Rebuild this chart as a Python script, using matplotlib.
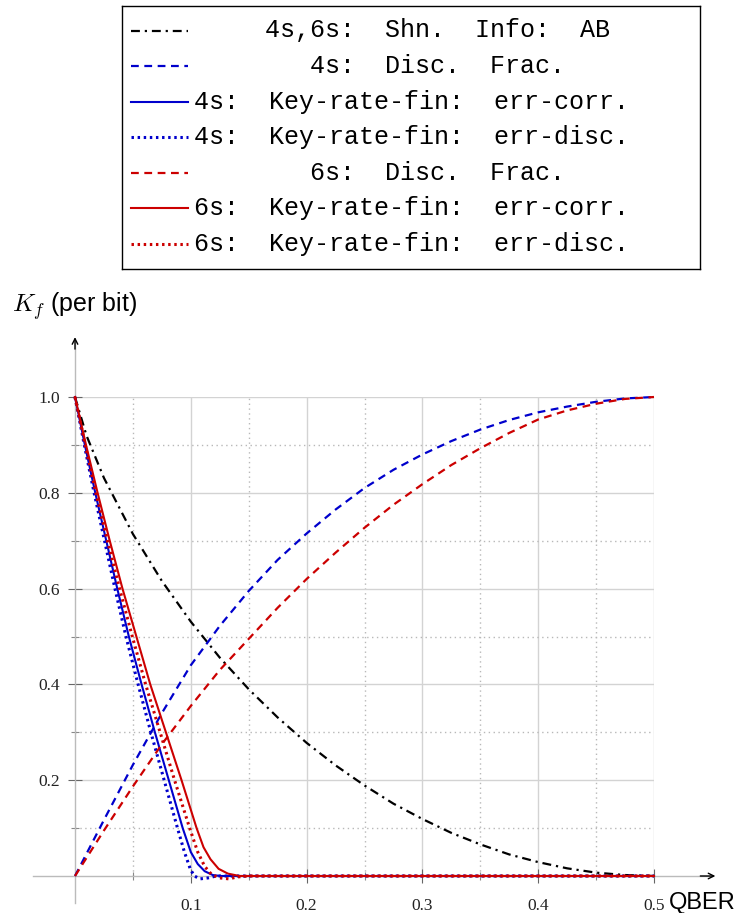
import matplotlib
matplotlib.use("Agg")
import matplotlib.pyplot as plt

plt.rcParams["mathtext.fontset"] = "cm"
plt.rcParams["font.family"] = ["Liberation Sans", "DejaVu Sans"]

# Shannon information between Alice and Bob (both protocols)
qber_shn = [0.0, 0.01, 0.025, 0.05, 0.075, 0.1, 0.125, 0.15, 0.175, 0.2, 0.225, 0.25,
            0.275, 0.3, 0.325, 0.35, 0.375, 0.4, 0.425, 0.45, 0.475, 0.5]
shn_info_ab = [1.0, 0.919, 0.831, 0.714, 0.616, 0.531, 0.456, 0.390, 0.331, 0.278, 0.231, 0.189,
               0.151, 0.119, 0.090, 0.066, 0.045, 0.029, 0.016, 0.007, 0.002, 0.0]

# discarded fraction
qber_disc = [0.0, 0.025, 0.05, 0.075, 0.1, 0.125, 0.15, 0.175, 0.2, 0.225, 0.25, 0.275,
             0.3, 0.325, 0.35, 0.375, 0.4, 0.425, 0.45, 0.475, 0.5]
disc_4s = [0.0, 0.117, 0.232, 0.34, 0.44, 0.522, 0.595, 0.66, 0.715, 0.765, 0.81, 0.848,
           0.88, 0.908, 0.932, 0.952, 0.968, 0.98, 0.99, 0.997, 1.0]
disc_6s = [0.0, 0.095, 0.187, 0.275, 0.355, 0.43, 0.495, 0.56, 0.62, 0.675, 0.727, 0.775,
           0.818, 0.858, 0.893, 0.925, 0.953, 0.972, 0.986, 0.996, 1.0]

# finite key rate, 4 states
qber_4s_corr = [0.0, 0.0085, 0.0175, 0.027, 0.0365, 0.0465, 0.0575, 0.069, 0.081, 0.093, 0.1,
                0.106, 0.112, 0.119, 0.126, 0.5]
key_4s_corr = [1.0, 0.9, 0.8, 0.7, 0.6, 0.5, 0.4, 0.3, 0.2, 0.1, 0.05,
               0.025, 0.01, 0.002, 0.0, 0.0]
qber_4s_disc = [0.0, 0.008, 0.0165, 0.0255, 0.0345, 0.044, 0.0545, 0.0655, 0.077, 0.0885, 0.0945,
                0.0995, 0.103, 0.108, 0.115, 0.122, 0.5]
key_4s_disc = [1.0, 0.9, 0.8, 0.7, 0.6, 0.5, 0.4, 0.3, 0.2, 0.1, 0.05,
               0.015, 0.0, -0.006, -0.004, 0.0, 0.0]

# finite key rate, 6 states
qber_6s_corr = [0.0, 0.0095, 0.0195, 0.03, 0.041, 0.053, 0.065, 0.0785, 0.092, 0.105, 0.111,
                0.117, 0.124, 0.132, 0.142, 0.5]
key_6s_corr = [1.0, 0.9, 0.8, 0.7, 0.6, 0.5, 0.4, 0.3, 0.2, 0.1, 0.06,
               0.035, 0.015, 0.005, 0.0, 0.0]
qber_6s_disc = [0.0, 0.0088, 0.018, 0.028, 0.0385, 0.0495, 0.061, 0.0735, 0.086, 0.099, 0.106,
                0.112, 0.118, 0.125, 0.133, 0.14, 0.15, 0.5]
key_6s_disc = [1.0, 0.9, 0.8, 0.7, 0.6, 0.5, 0.4, 0.3, 0.2, 0.1, 0.05,
               0.02, 0.003, -0.004, -0.006, -0.002, 0.0, 0.0]

labels = ["4s,6s:  Shn.  Info:  AB",
          "4s:  Disc.  Frac.",
          "4s:  Key-rate-fin:  err-corr.",
          "4s:  Key-rate-fin:  err-disc.",
          "6s:  Disc.  Frac.",
          "6s:  Key-rate-fin:  err-corr.",
          "6s:  Key-rate-fin:  err-disc."]

BLUE = "#0000cc"
RED = "#cc0000"
DASHDOT = (0, (4, 2.2, 1, 2.2))
DASHED = (0, (3.5, 2.5))
DOTTED = (0, (0.8, 1.2))

styles = [("black", DASHDOT), (BLUE, DASHED), (BLUE, "-"), (BLUE, DOTTED),
          (RED, DASHED), (RED, "-"), (RED, DOTTED)]
widths = [1.6, 1.6, 1.5, 2.2, 1.6, 1.5, 2.2]
series = [(qber_shn, shn_info_ab), (qber_disc, disc_4s), (qber_4s_corr, key_4s_corr),
          (qber_4s_disc, key_4s_disc), (qber_disc, disc_6s), (qber_6s_corr, key_6s_corr),
          (qber_6s_disc, key_6s_disc)]

W, H = 749, 913
fig = plt.figure(figsize=(W / 100, H / 100), dpi=100)
ax = fig.add_axes([75 / W, (H - 876) / H, 579 / W, 479 / H])
ax.set_xlim(0, 0.5)
ax.set_ylim(0, 1)
for s in ax.spines.values():
    s.set_visible(False)

ax.set_xticks([0.1, 0.2, 0.3, 0.4, 0.5])
ax.set_xticks([0.05, 0.15, 0.25, 0.35, 0.45], minor=True)
ax.set_yticks([0.2, 0.4, 0.6, 0.8, 1.0])
ax.set_yticks([0.1, 0.3, 0.5, 0.7, 0.9], minor=True)
ax.set_xticklabels(["0.1", "0.2", "0.3", "0.4", "0.5"])
ax.set_yticklabels(["0.2", "0.4", "0.6", "0.8", "1.0"])
for t in ax.get_xticklabels() + ax.get_yticklabels():
    t.set_family("Liberation Serif")
    t.set_fontsize(12.5)
    t.set_color("#222222")
ax.tick_params(which="major", direction="inout", length=10, width=0.8, color="#666666")
ax.tick_params(which="minor", direction="inout", length=6, width=0.8, color="#888888")
ax.tick_params(axis="x", which="major", pad=11)
ax.tick_params(axis="y", which="major", pad=6)
ax.grid(which="major", color="#d3d3d3", lw=1.0, ls="-")
ax.grid(which="minor", color="#b8b8b8", lw=1.0, ls=(0, (1, 2.5)))
ax.set_axisbelow(True)

# axis lines with arrows
ax.plot([-0.036, 0.55], [0, 0], color="#bbbbbb", lw=1.0, clip_on=False, zorder=1)
ax.plot([0, 0], [-0.056, 1.12], color="#bbbbbb", lw=1.0, clip_on=False, zorder=1)
ax.annotate("", xy=(0.553, 0), xytext=(0.54, 0), annotation_clip=False,
            arrowprops=dict(arrowstyle="->", color="black", lw=1.0, shrinkA=0, shrinkB=0))
ax.annotate("", xy=(0, 1.125), xytext=(0, 1.1), annotation_clip=False,
            arrowprops=dict(arrowstyle="->", color="black", lw=1.0, shrinkA=0, shrinkB=0))

for (x, y), (c, ls), lw in zip(series, styles, widths):
    ax.plot(x, y, color=c, ls=ls, lw=lw, clip_on=False, zorder=3)

fig.text(12 / W, 1 - 306 / H, "$K_f$ (per bit)", fontsize=18, va="center", ha="left")
fig.text(669 / W, 1 - 903 / H, "QBER", fontsize=17, va="center", ha="left")

# legend box drawn in pixel coordinates
lx0, lx1, ly0, ly1 = 122, 700, 6, 269
lax = fig.add_axes([lx0 / W, 1 - ly1 / H, (lx1 - lx0) / W, (ly1 - ly0) / H])
lax.set_xlim(lx0, lx1)
lax.set_ylim(ly1, ly0)
lax.set_xticks([])
lax.set_yticks([])
for s in lax.spines.values():
    s.set_color("black")
    s.set_linewidth(1.0)
row_y = [31, 66.5, 102, 137.5, 173, 208.5, 244]
for i, (lab, (c, ls), lw) in enumerate(zip(labels, styles, widths)):
    y = row_y[i]
    lax.plot([131, 188], [y, y], color=c, ls=ls, lw=lw)
    if "Key" in lab:
        lax.text(194, y + 6.5, lab, family="Liberation Mono", fontsize=18,
                 ha="left", va="baseline")
    else:
        lax.text(437, y + 6.5, lab, family="Liberation Mono", fontsize=18,
                 ha="center", va="baseline")

fig.savefig("out.png", dpi=100)
